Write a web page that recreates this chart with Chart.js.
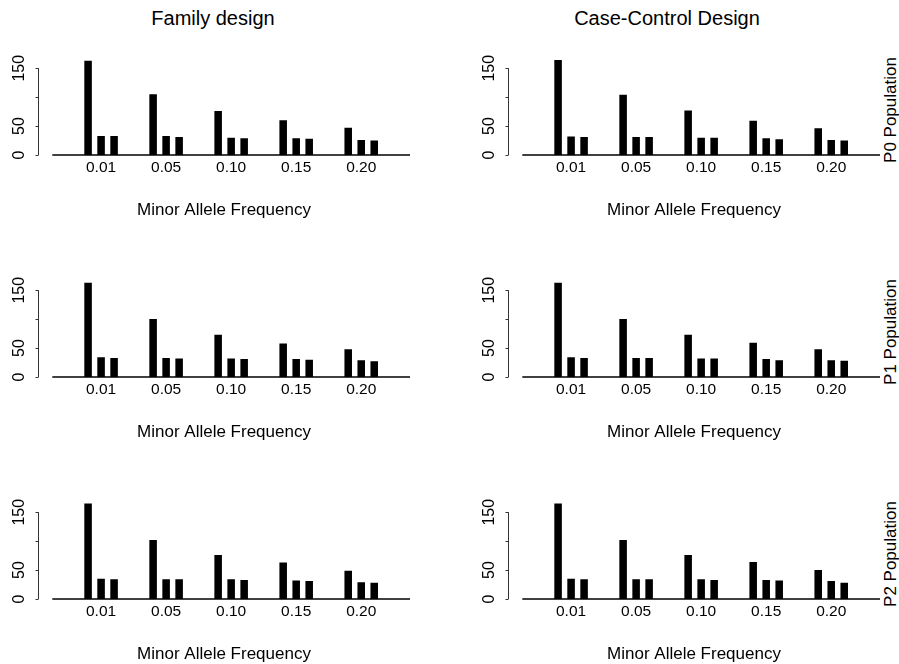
<!DOCTYPE html>
<html><head><meta charset="utf-8">
<script src="https://cdn.jsdelivr.net/npm/chart.js@4.4.0/dist/chart.umd.min.js"></script>
<style>
html,body{margin:0;padding:0;background:#fff;}
#wrap{position:relative;width:899px;height:664px;overflow:hidden;font-family:"Liberation Sans",Arial,sans-serif;color:#000;}
.panel{position:absolute;}
.coltitle{position:absolute;top:6px;font-size:20px;line-height:24px;white-space:nowrap;transform:translateX(-50%);}
.rowlabel{position:absolute;font-size:17px;line-height:20px;white-space:nowrap;transform:translate(-50%,-50%) rotate(-90deg);}
</style></head>
<body>
<div id="wrap">
  <div class="coltitle" style="left:213px">Family design</div>
  <div class="coltitle" style="left:667px">Case-Control Design</div>
  <div class="rowlabel" style="left:891px;top:110px">P0 Population</div>
  <div class="rowlabel" style="left:891px;top:332px">P1 Population</div>
  <div class="rowlabel" style="left:891px;top:554px">P2 Population</div>
</div>
<script>
// ---- data ----
const categories = ['0.01', '0.05', '0.10', '0.15', '0.20'];
const yTicks = [0, 50, 100, 150];
const yTickLabels = ['0', '50', '', '150'];
const xTitle = 'Minor Allele Frequency';

const family_P0_a = [163, 105, 76, 60, 47];
const family_P0_b = [33, 33, 30, 29, 26];
const family_P0_c = [33, 31, 29, 28, 25];
const cc_P0_a = [164, 104, 77, 59, 46];
const cc_P0_b = [32, 31, 30, 29, 26];
const cc_P0_c = [31, 31, 30, 27, 25];

const family_P1_a = [163, 100, 73, 58, 48];
const family_P1_b = [34, 33, 32, 31, 29];
const family_P1_c = [33, 32, 31, 30, 27];
const cc_P1_a = [163, 100, 73, 59, 48];
const cc_P1_b = [34, 33, 32, 31, 29];
const cc_P1_c = [33, 33, 32, 29, 28];

const family_P2_a = [165, 102, 76, 63, 49];
const family_P2_b = [35, 34, 34, 32, 29];
const family_P2_c = [34, 34, 33, 31, 28];
const cc_P2_a = [165, 102, 76, 64, 50];
const cc_P2_b = [35, 34, 34, 33, 31];
const cc_P2_c = [34, 34, 33, 32, 28];

const panels = [
  [family_P0_a, family_P0_b, family_P0_c], [cc_P0_a, cc_P0_b, cc_P0_c],
  [family_P1_a, family_P1_b, family_P1_c], [cc_P1_a, cc_P1_b, cc_P1_c],
  [family_P2_a, family_P2_b, family_P2_c], [cc_P2_a, cc_P2_b, cc_P2_c]
];

// scale ranges (in category units / value units)
const X_MIN = -0.97, X_MAX = 4.75, BASE_FROM = -0.75, BASE_TO = 4.75;
const Y_MIN = 0, Y_MAX = 170;

const FONT = '"Liberation Sans", Arial, sans-serif';

const rAxis = {
  id: 'rAxis',
  afterDatasetsDraw(chart) {
    const {ctx, chartArea, scales: {x, y}} = chart;
    const x0 = Math.round(chartArea.left) + 0.5;
    ctx.save();
    ctx.strokeStyle = '#333';
    ctx.lineWidth = 1;
    ctx.beginPath();
    ctx.moveTo(x0, y.getPixelForValue(yTicks[0]));
    ctx.lineTo(x0, y.getPixelForValue(yTicks[yTicks.length - 1]));
    yTicks.forEach(v => {
      const py = Math.round(y.getPixelForValue(v)) + 0.5;
      ctx.moveTo(x0, py); ctx.lineTo(x0 - 3, py);
    });
    ctx.stroke();
    ctx.fillStyle = '#000';
    ctx.font = '16px ' + FONT;
    ctx.textAlign = 'center';
    ctx.textBaseline = 'middle';
    yTicks.forEach((v, i) => {
      if (!yTickLabels[i]) return;
      ctx.save();
      ctx.translate(x0 - 19, y.getPixelForValue(v));
      ctx.rotate(-Math.PI / 2);
      ctx.fillText(yTickLabels[i], 0, 0);
      ctx.restore();
    });
    const py0 = y.getPixelForValue(0);
    ctx.strokeStyle = '#000';
    ctx.lineWidth = 1.6;
    ctx.beginPath();
    ctx.moveTo(x.getPixelForValue(BASE_FROM), py0);
    ctx.lineTo(x.getPixelForValue(BASE_TO), py0);
    ctx.stroke();
    ctx.restore();
  }
};

const wrap = document.getElementById('wrap');
panels.forEach((series, idx) => {
  const row = Math.floor(idx / 2), col = idx % 2;
  const w = col === 0 ? 449 : 429;
  const div = document.createElement('div');
  div.className = 'panel';
  div.style.left = (col === 0 ? 0 : 470) + 'px';
  div.style.top = (row * 222) + 'px';
  const cv = document.createElement('canvas');
  cv.width = w; cv.height = 222;
  cv.style.width = w + 'px'; cv.style.height = '222px';
  div.appendChild(cv);
  wrap.appendChild(div);

  new Chart(cv, {
    type: 'bar',
    data: {
      datasets: series.map((vals, k) => ({
        label: 'series ' + (k + 1),
        data: vals.map((v, i) => ({x: i, y: v})),
        backgroundColor: '#000',
        borderWidth: 0,
        barPercentage: 0.58,
        categoryPercentage: 0.6
      }))
    },
    options: {
      responsive: false,
      animation: false,
      events: [],
      layout: {padding: {left: 38, right: col === 0 ? 39 : 19, top: 56.6, bottom: 1.0}},
      plugins: {legend: {display: false}, tooltip: {enabled: false}, title: {display: false}},
      scales: {
        x: {
          type: 'linear',
          offset: false,
          min: X_MIN, max: X_MAX,
          grid: {display: false, drawTicks: false, offset: false},
          border: {display: false},
          afterBuildTicks: s => { s.ticks = categories.map((_, i) => ({value: i})); },
          ticks: {
            autoSkip: false, maxRotation: 0, minRotation: 0, padding: 3.5,
            color: '#000', font: {family: FONT, size: 15.5},
            callback: v => categories[v]
          },
          title: {display: true, text: xTitle, color: '#000', font: {family: FONT, size: 17}, padding: {top: 20, bottom: 0}}
        },
        y: {
          display: false,
          min: Y_MIN, max: Y_MAX
        }
      }
    },
    plugins: [rAxis]
  });
});
</script>
</body></html>
